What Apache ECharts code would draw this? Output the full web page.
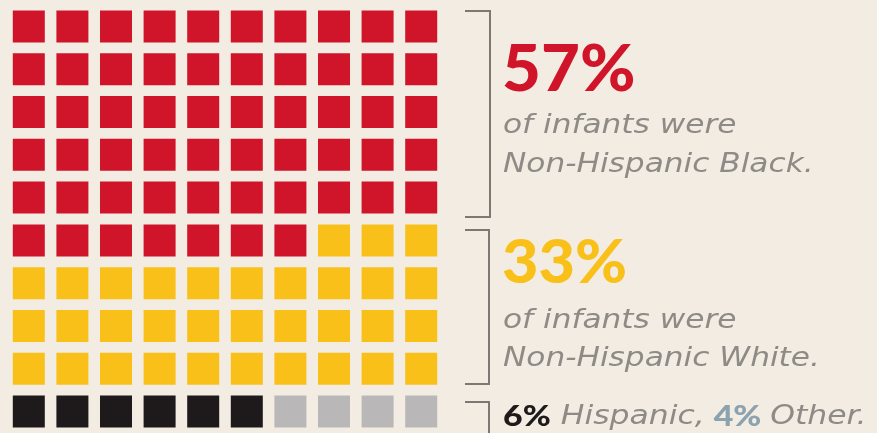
<!DOCTYPE html>
<html><head><meta charset="utf-8">
<script src="https://cdn.jsdelivr.net/npm/echarts@6/dist/echarts.min.js"></script>
<style>html,body{margin:0;padding:0;background:#f2ece2;}#c{width:877px;height:433px;}</style>
</head><body><div id="c"></div>
<script>
const categories = ['Non-Hispanic Black', 'Non-Hispanic White', 'Hispanic', 'Other'];
const percents = [57, 33, 6, 4];
const colors = ['#d0152a', '#f9c01a', '#1e1a1b', '#b9b7b8'];
const headlines = ['57%', '33%'];
const subLines1 = ['of infants were', 'of infants were'];
const subLines2 = ['Non-Hispanic Black.', 'Non-Hispanic White.'];

const cols = 10;
const cells = [];
let k = 0;
percents.forEach((p, ci) => {
  for (let i = 0; i < p; i++) {
    cells.push({ value: [k % cols, Math.floor(k / cols)], itemStyle: { color: colors[ci], opacity: 1 }, name: categories[ci] });
    k++;
  }
});

const chart = echarts.init(document.getElementById('c'));
const grey = '#8e8a86';
const bracket = '#7c7873';
const txtFont = '"DejaVu Sans", sans-serif';
const sx = 1.2;
chart.setOption({
  backgroundColor: '#f2ece2',
  animation: false,
  grid: { left: 7, top: 5, width: 436, height: 436 },
  xAxis: { type: 'value', min: -0.5, max: 9.5, show: false },
  yAxis: { type: 'value', min: -0.5, max: 9.5, inverse: true, show: false },
  series: [{
    type: 'scatter',
    symbol: 'rect',
    symbolSize: 32,
    itemStyle: { opacity: 1 },
    data: cells
  }],
  graphic: [
    { type: 'polyline', shape: { points: [[465, 11], [490, 11], [490, 217], [465, 217]] }, style: { stroke: bracket, lineWidth: 2, fill: null } },
    { type: 'polyline', shape: { points: [[465, 230], [489, 230], [489, 384], [465, 384]] }, style: { stroke: bracket, lineWidth: 2, fill: null } },
    { type: 'polyline', shape: { points: [[465, 402], [489, 402], [489, 440]] }, style: { stroke: bracket, lineWidth: 2, fill: null } },
    { type: 'text', x: 502, y: 38, scaleX: 1.05, style: { text: headlines[0], fill: colors[0], font: '900 64px Lato, sans-serif' } },
    { type: 'text', x: 502, y: 234, scaleX: 1.05, style: { text: headlines[1], fill: colors[1], font: '900 60px Lato, sans-serif' } },
    { type: 'text', x: 503, y: 139, scaleX: sx, style: { text: subLines1[0], fill: grey, font: 'italic 300 26px ' + txtFont, textVerticalAlign: 'bottom' } },
    { type: 'text', x: 503, y: 178, scaleX: sx, style: { text: subLines2[0], fill: grey, font: 'italic 300 26px ' + txtFont, textVerticalAlign: 'bottom' } },
    { type: 'text', x: 503, y: 334, scaleX: sx, style: { text: subLines1[1], fill: grey, font: 'italic 300 26px ' + txtFont, textVerticalAlign: 'bottom' } },
    { type: 'text', x: 503, y: 372, scaleX: sx, style: { text: subLines2[1], fill: grey, font: 'italic 300 26px ' + txtFont, textVerticalAlign: 'bottom' } },
    { type: 'text', x: 503, y: 431, scaleX: 1.21, style: {
      text: '{b|' + percents[2] + '%} {c|' + categories[2] + ',} {g|' + percents[3] + '%} {i|' + categories[3] + '.}',
      textVerticalAlign: 'bottom',
      rich: {
        b: { font: '900 28px Lato, sans-serif', fill: '#1e1a1b', padding: [0, 5, 0, 0] },
        g: { font: '900 28px Lato, sans-serif', fill: '#8da2af', padding: [0, 4, 0, 0] },
        c: { font: 'italic 300 26px ' + txtFont, fill: grey, padding: [0, 4, 0, 0] },
        i: { font: 'italic 300 26px ' + txtFont, fill: grey }
      }
    } }
  ]
});
</script></body></html>
